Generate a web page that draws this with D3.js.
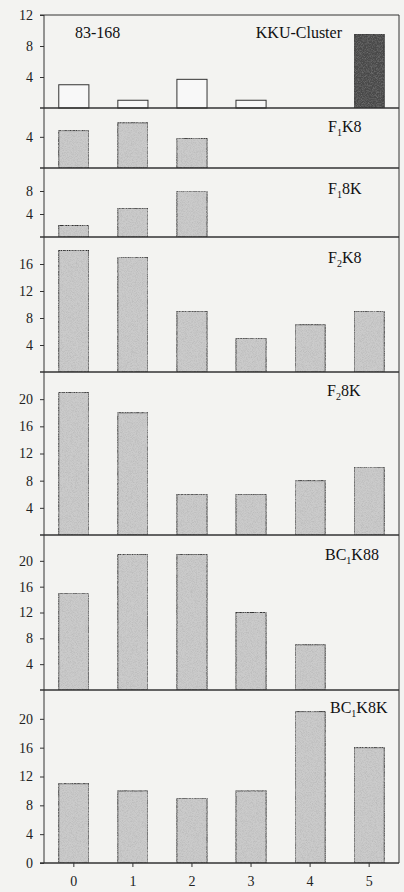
<!DOCTYPE html>
<html><head><meta charset="utf-8">
<script src="https://cdn.jsdelivr.net/npm/d3@7"></script>
<style>body{margin:0;background:#f3f3f1}svg{display:block}</style>
</head><body><svg id="c" width="404" height="892"></svg>
<script>
// ---- data ----
const categories = [0, 1, 2, 3, 4, 5];
const kkuOpen    = [3, 1, 3.7, 1, null, null];
const kkuCluster = [null, null, null, null, null, 9.5];
const f1k8   = [4.8, 5.8, 3.8, null, null, null];
const f18k   = [2, 5, 8, null, null, null];
const f2k8   = [18, 17, 9, 5, 7, 9];
const f28k   = [21, 18, 6, 6, 8, 10];
const bc1k88 = [15, 21, 21, 12, 7, null];
const bc1k8k = [11, 10, 9, 10, 21, 16];
const ticksA = [4, 8, 12];
const ticksB = [4];
const ticksC = [4, 8];
const ticksD = [4, 8, 12, 16];
const ticksE = [4, 8, 12, 16, 20];
const ticksF = [0, 4, 8, 12, 16, 20];

// ---- layout ----
const svg = d3.select("#c");
const left = 44, right = 399;
const x = d3.scaleBand().domain(categories).range([left, right]).paddingInner(0.49).paddingOuter(0.25);

const defs = svg.append("defs");
function grain(id, grey, strength) {
  const f = defs.append("filter").attr("id", id).attr("x",0).attr("y",0).attr("width",1).attr("height",1);
  f.append("feTurbulence").attr("type","fractalNoise").attr("baseFrequency",1.2).attr("numOctaves",2).attr("seed",5).attr("result","n");
  f.append("feColorMatrix").attr("in","n").attr("type","matrix")
    .attr("values",`0 0 0 0 ${grey}  0 0 0 0 ${grey}  0 0 0 0 ${grey}  0 0 0 ${-strength*3} ${strength*1.8}`).attr("result","a");
  f.append("feComposite").attr("in","a").attr("in2","SourceGraphic").attr("operator","in").attr("result","g");
  f.append("feMerge").selectAll("feMergeNode").data(["SourceGraphic","g"]).join("feMergeNode").attr("in",d=>d);
}
grain("grainL", 0.5, 0.8);
grain("grainD", 0.15, 0.8);

const panels = [
  {top: 15,  bottom: 108, max: 12,  ticks: ticksA, series: [{v: kkuOpen, fill: "#f8f8f8", grain: null}, {v: kkuCluster, fill: "#4a4a4a", grain: "grainD"}],
   label: [["KKU-Cluster"]], lx: 342, ly: 38, anchor: "end"},
  {top: 108, bottom: 168, max: 7.7, ticks: ticksB, series: [{v: f1k8, fill: "#cbcbcb", grain: "grainL"}],
   label: [["F"],["1","sub"],["K8"]], lx: 328, ly: 132},
  {top: 168, bottom: 237, max: 12,  ticks: ticksC, series: [{v: f18k, fill: "#cbcbcb", grain: "grainL"}],
   label: [["F"],["1","sub"],["8K"]], lx: 328, ly: 194},
  {top: 237, bottom: 372, max: 20,  ticks: ticksD, series: [{v: f2k8, fill: "#cbcbcb", grain: "grainL"}],
   label: [["F"],["2","sub"],["K8"]], lx: 328, ly: 263},
  {top: 372, bottom: 535, max: 24,  ticks: ticksE, series: [{v: f28k, fill: "#cbcbcb", grain: "grainL"}],
   label: [["F"],["2","sub"],["8K"]], lx: 327, ly: 396},
  {top: 535, bottom: 690, max: 24,  ticks: ticksE, series: [{v: bc1k88, fill: "#cbcbcb", grain: "grainL"}],
   label: [["BC"],["1","sub"],["K88"]], lx: 325, ly: 560},
  {top: 690, bottom: 863, max: 24,  ticks: ticksF, series: [{v: bc1k8k, fill: "#cbcbcb", grain: "grainL"}],
   label: [["BC"],["1","sub"],["K8K"]], lx: 330, ly: 713}
];

const font = "'Liberation Serif','Times New Roman',serif";

panels.forEach((p, i) => {
  const y = d3.scaleLinear().domain([0, p.max]).range([p.bottom, p.top]);
  const g = svg.append("g");
  p.series.forEach(s => {
    g.selectAll(null).data(categories.map((c, k) => ({c, v: s.v[k]})).filter(d => d.v != null))
      .join("rect")
      .attr("x", d => x(d.c)).attr("width", x.bandwidth())
      .attr("y", d => y(d.v)).attr("height", d => y(0) - y(d.v))
      .attr("fill", s.fill).attr("stroke", "#333").attr("stroke-width", 1)
      .attr("filter", s.grain ? `url(#${s.grain})` : null);
  });
  const ax = g.append("g").attr("transform", `translate(${left},0)`)
    .call(d3.axisLeft(y).tickValues(p.ticks).tickSize(4).tickFormat(d3.format("d")));
  ax.select(".domain").remove();
  ax.selectAll("line").attr("stroke", "#333");
  ax.selectAll("text").attr("font-family", font).attr("font-size", 14).attr("fill", "#222").attr("dx", "-4");
  g.append("line").attr("x1", left).attr("x2", left).attr("y1", p.top).attr("y2", p.bottom).attr("stroke", "#333");
  g.append("line").attr("x1", right).attr("x2", right).attr("y1", p.top).attr("y2", p.bottom).attr("stroke", "#333");
  g.append("line").attr("x1", left - 4).attr("x2", right).attr("y1", p.bottom).attr("y2", p.bottom).attr("stroke", "#333").attr("stroke-width", 1.3);
  if (i === 0) g.append("line").attr("x1", left - 4).attr("x2", right).attr("y1", p.top).attr("y2", p.top).attr("stroke", "#333");
  const t = g.append("text").attr("x", p.lx).attr("y", p.ly).attr("font-family", font).attr("font-size", 16)
    .attr("fill", "#111").attr("text-anchor", p.anchor || "start");
  p.label.forEach(([s, kind], k) => {
    const ts = t.append("tspan").text(s);
    if (kind === "sub") ts.attr("font-size", 10).attr("dy", 4);
    else if (k > 0) ts.attr("dy", -4);
  });
  if (i === 0) {
    g.append("text").attr("x", 75).attr("y", 38).attr("font-family", font).attr("font-size", 16).attr("fill", "#111").text("83-168");
  }
  if (i === panels.length - 1) {
    const xa = g.append("g").attr("transform", `translate(0,${p.bottom})`)
      .call(d3.axisBottom(x).tickSize(4).tickPadding(9));
    xa.select(".domain").remove();
    xa.selectAll("line").attr("stroke", "#333");
    xa.selectAll("text").attr("font-family", font).attr("font-size", 14).attr("fill", "#222");
  }
});
</script></body></html>
